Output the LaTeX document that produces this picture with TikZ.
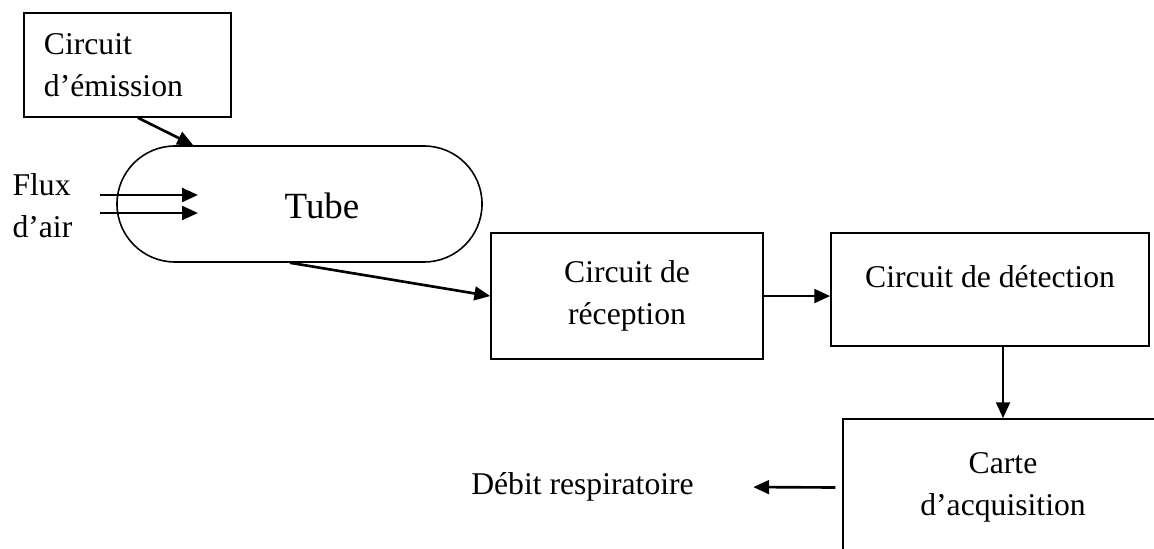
\documentclass[tikz,border=0pt]{standalone}
\usepackage{fontspec}
\setmainfont{Liberation Serif}
\usetikzlibrary{arrows.meta,positioning,calc}

\begin{document}
\begin{tikzpicture}[every node/.style={font=\fontsize{12}{16}\selectfont, inner sep=0pt},
    bloc/.style={draw, line width=0.6pt, align=center},
    fleche/.style={-{Triangle[length=6pt,width=5.2pt]}, line width=1pt}]
    \useasboundingbox (0,0) rectangle (15.37,7.299);
    \clip (0,0) rectangle (15.37,7.299);

    \node[bloc, align=left, text width=2.225cm, inner xsep=0.266cm, minimum height=1.385cm] (emis) at (1.698,6.433) {Circuit\\d’émission};

    \node[bloc, rounded corners=0.7725cm, minimum width=4.862cm, minimum height=1.545cm] (tube) at (3.989,4.582) {};
    \node[font=\fontsize{14}{16}\selectfont] (tubetxt) at (4.289,4.555) {Tube};

    \node[anchor=west, align=left] (flux) at (0.160,4.555) {Flux\\d’air};
    \coordinate (fluxA) at (1.332,4.702);
    \coordinate (fluxB) at (1.332,4.462);
    \coordinate (fluxAend) at (2.637,4.702);
    \coordinate (fluxBend) at (2.637,4.462);

    \node[bloc, minimum width=3.623cm, minimum height=1.678cm] (rec) at (8.351,3.356) {Circuit de\\réception};

    \node[bloc, minimum width=4.236cm, minimum height=1.505cm] (det) at (13.186,3.443) {};
    \node (dettxt) at (13.186,3.609) {Circuit de détection};

    \node[bloc, minimum width=4.262cm, minimum height=1.825cm] (carte) at (13.359,0.806) {Carte\\d’acquisition};
    \node (debit) at (7.758,0.812) {Débit respiratoire};

    \draw[fleche] ($(emis.south west)!0.55!(emis.south east)$) -- ($(tube.north west)!0.21!(tube.north east)$);
    \draw[fleche] (fluxA) -- (fluxAend);
    \draw[fleche] (fluxB) -- (fluxBend);
    \draw[fleche] ($(tube.south west)!0.474!(tube.south east)$) -- (rec.west);
    \draw[fleche] (rec.east) -- (rec.east -| det.west);
    \draw[fleche] (carte.north |- det.south) -- (carte.north);
    \draw[fleche] ([xshift=-0.093cm]carte.west) -- ([xshift=0.786cm]debit.east);
\end{tikzpicture}
\end{document}
